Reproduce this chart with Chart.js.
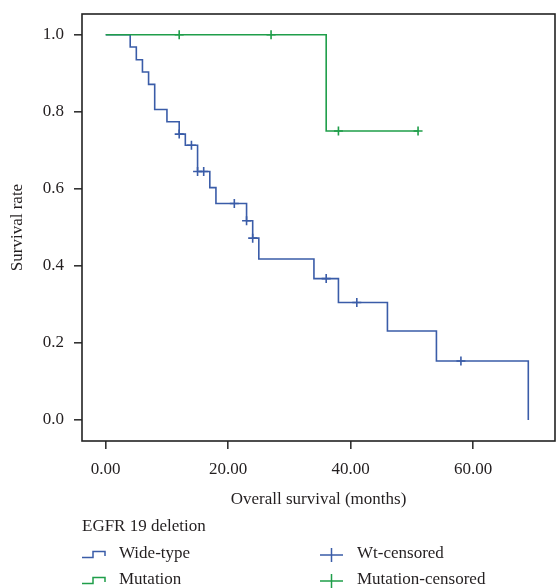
<!DOCTYPE html>
<html>
<head>
<meta charset="utf-8">
<script src="https://cdn.jsdelivr.net/npm/chart.js@4.4.1/dist/chart.umd.min.js"></script>
<style>
  html, body { margin: 0; padding: 0; background: #fff; }
  #wrap { width: 556px; height: 588px; }
</style>
</head>
<body>
<div id="wrap"><canvas id="km" width="556" height="588"></canvas></div>
<script>
const xTicks = [0, 20, 40, 60];
const yTicks = [0, 0.2, 0.4, 0.6, 0.8, 1.0];

// Kaplan-Meier steps, wide-type
const wtTimes = [0, 4, 5, 6, 7, 8, 10, 12, 13, 15, 17, 18, 23, 24, 25, 34, 38, 46, 54, 69];
const wtSurv = [1.0, 0.968, 0.935, 0.903, 0.871, 0.806, 0.774, 0.742, 0.713, 0.645, 0.603, 0.562, 0.517, 0.472, 0.418, 0.367, 0.305, 0.231, 0.153, 0.0];
const wtCensTimes = [12, 14, 15, 16, 21, 23, 24, 36, 41, 58];
const wtCensSurv = [0.742, 0.713, 0.645, 0.645, 0.562, 0.517, 0.472, 0.367, 0.305, 0.153];

// mutation
const mutTimes = [0, 36, 51];
const mutSurv = [1.0, 0.75, 0.75];
const mutCensTimes = [12, 27, 38, 51];
const mutCensSurv = [1.0, 1.0, 0.75, 0.75];

const BLUE = '#3a5ca8';
const GREEN = '#1f9e4a';
const INK = '#231f20';
const FONT = 'Liberation Serif';

function pts(xs, ys) {
  return xs.map((x, i) => ({ x, y: ys[i] }));
}

// no extra label padding, the frame is fixed
function noPad(s) {
  s.paddingTop = 0;
  s.paddingBottom = 0;
  s.paddingLeft = 0;
  s.paddingRight = 0;
}

const framePlugin = {
  id: 'frame',
  afterDatasetsDraw(chart) {
    const { ctx, chartArea: a } = chart;
    ctx.save();
    ctx.strokeStyle = '#222';
    ctx.lineWidth = 1.6;
    ctx.strokeRect(a.left, a.top, a.right - a.left, a.bottom - a.top);
    ctx.restore();
  },
};

const kmLegend = {
  id: 'kmLegend',
  afterDraw(chart) {
    const { ctx } = chart;
    ctx.save();
    ctx.font = '17px "' + FONT + '"';
    ctx.fillStyle = INK;
    ctx.textBaseline = 'middle';
    ctx.textAlign = 'left';
    ctx.fillText('EGFR 19 deletion', 82, 527);

    const rows = [
      { y: 554, color: BLUE, text: 'Wide-type', ctext: 'Wt-censored' },
      { y: 580, color: GREEN, text: 'Mutation', ctext: 'Mutation-censored' },
    ];
    rows.forEach(r => {
      ctx.strokeStyle = r.color;
      ctx.lineWidth = 1.5;
      ctx.beginPath();
      ctx.moveTo(82, r.y + 3.5);
      ctx.lineTo(93, r.y + 3.5);
      ctx.lineTo(93, r.y - 2.5);
      ctx.lineTo(105, r.y - 2.5);
      ctx.lineTo(105, r.y + 2);
      ctx.stroke();
      ctx.fillStyle = INK;
      ctx.fillText(r.text, 119, r.y);

      ctx.beginPath();
      ctx.moveTo(320, r.y + 1);
      ctx.lineTo(343, r.y + 1);
      ctx.moveTo(331.5, r.y - 6);
      ctx.lineTo(331.5, r.y + 8);
      ctx.stroke();
      ctx.fillText(r.ctext, 357, r.y);
    });
    ctx.restore();
  },
};

new Chart(document.getElementById('km'), {
  type: 'line',
  data: {
    datasets: [
      { label: 'Mutation-censored', data: pts(mutCensTimes, mutCensSurv), showLine: false, pointStyle: 'cross', pointRadius: 4.5, borderColor: GREEN, borderWidth: 1.6 },
      { label: 'Wt-censored', data: pts(wtCensTimes, wtCensSurv), showLine: false, pointStyle: 'cross', pointRadius: 4.5, borderColor: BLUE, borderWidth: 1.6 },
      { label: 'Mutation', data: pts(mutTimes, mutSurv), stepped: true, borderColor: GREEN, borderWidth: 1.6, pointRadius: 0, fill: false },
      { label: 'Wide-type', data: pts(wtTimes, wtSurv), stepped: true, borderColor: BLUE, borderWidth: 1.6, pointRadius: 0, fill: false },
    ],
  },
  options: {
    responsive: false,
    animation: false,
    layout: { autoPadding: false, padding: { left: 0, top: 14, right: 1, bottom: 78 } },
    plugins: { legend: { display: false }, tooltip: { enabled: false } },
    scales: {
      x: {
        type: 'linear',
        min: -3.87,
        max: 73.36,
        afterBuildTicks: s => { s.ticks = xTicks.map(v => ({ value: v })); },
        afterFit: s => { s.height = 69; noPad(s); },
        grid: { drawOnChartArea: false, drawTicks: true, tickLength: 8, color: '#333', lineWidth: 1.6 },
        border: { display: false },
        ticks: { padding: 10, color: INK, font: { family: FONT, size: 17 }, callback: v => v.toFixed(2), maxRotation: 0 },
        title: { display: true, text: 'Overall survival (months)', color: INK, font: { family: FONT, size: 17 }, padding: { top: 0, bottom: 0 } },
      },
      y: {
        type: 'linear',
        min: -0.0545,
        max: 1.0537,
        afterBuildTicks: s => { s.ticks = yTicks.map(v => ({ value: v })); },
        afterFit: s => { s.width = 82; noPad(s); },
        grid: { drawOnChartArea: false, drawTicks: true, tickLength: 8, color: '#333', lineWidth: 1.6 },
        border: { display: false },
        ticks: { padding: 10, color: INK, font: { family: FONT, size: 17 }, callback: v => v.toFixed(1) },
        title: { display: true, text: 'Survival rate', color: INK, font: { family: FONT, size: 17 }, padding: { top: 7, bottom: 0 } },
      },
    },
  },
  plugins: [framePlugin, kmLegend],
});
</script>
</body>
</html>
